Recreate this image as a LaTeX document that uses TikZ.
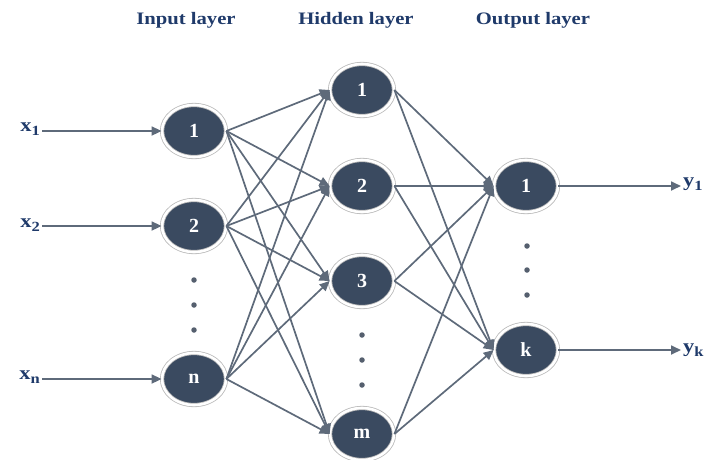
\documentclass[tikz,border=0pt]{standalone}
\usepackage{fontspec}
\setmainfont{Liberation Serif}
\newfontfamily\wideserif[FakeStretch=1.18]{Liberation Serif}
\usetikzlibrary{shapes.geometric,arrows.meta}
\definecolor{nodefill}{HTML}{3A4A60}
\definecolor{edgecol}{HTML}{5E6A7A}
\definecolor{labcol}{HTML}{1F3A6A}
\newcommand{\iolab}[2]{#1\raisebox{-4pt}{\fontsize{14}{14}\selectfont #2}}
\begin{document}
\begin{tikzpicture}[x=1pt,y=-1pt,
  neuron/.style={ellipse,minimum width=64pt,minimum height=52pt,inner sep=0pt,
    draw=gray!55,double=white,double distance=2.6pt,line width=0.8pt,fill=nodefill,
    text=white,font=\bfseries\fontsize{20}{20}\selectfont},
  conn/.style={draw=edgecol,line width=1.7pt,-{Triangle[length=10pt,width=9pt]}},
  ttl/.style={text=labcol,font=\wideserif\bfseries\fontsize{17.5}{17.5}\selectfont},
  io/.style={text=labcol,inner sep=2pt,font=\wideserif\bfseries\fontsize{19}{19}\selectfont},
  dot/.style={circle,fill=edgecol!90!black,inner sep=0pt,minimum size=5.5pt}]
\useasboundingbox (0,0) rectangle (707,459);
% titles
\node[ttl] (t1) at (186,20) {Input layer};
\node[ttl] (t2) at (356,20) {Hidden layer};
\node[ttl] (t3) at (533,20) {Output layer};
% nodes
\node[neuron] (i1) at (194,131) {1};
\node[neuron] (i2) at (194,226) {2};
\node[neuron] (in) at (194,379) {n};
\node[neuron] (h1) at (362,90) {1};
\node[neuron] (h2) at (362,186) {2};
\node[neuron] (h3) at (362,281) {3};
\node[neuron] (hm) at (362,434) {m};
\node[neuron] (o1) at (526,186) {1};
\node[neuron] (ok) at (526,350) {k};
% dots
\foreach \yy [count=\c] in {280,305,330} \node[dot] (di\c) at (194,\yy) {};
\foreach \yy [count=\c] in {335,360,385} \node[dot] (dh\c) at (362,\yy) {};
\foreach \yy [count=\c] in {246,270,295} \node[dot] (do\c) at (527,\yy) {};
% io labels
\node[io,anchor=east] (x1) at (42,129) {\iolab{x}{1}};
\node[io,anchor=east] (x2) at (42,225) {\iolab{x}{2}};
\node[io,anchor=east] (xn) at (42,377) {\iolab{x}{n}};
\node[io,anchor=west] (y1) at (681,184) {\iolab{y}{1}};
\node[io,anchor=west] (yk) at (681,350) {\iolab{y}{k}};
% connectors
\draw[conn] (x1.east |- i1) -- (i1);
\draw[conn] (x2.east |- i2) -- (i2);
\draw[conn] (xn.east |- in) -- (in);
\foreach \a in {i1,i2,in} \foreach \b in {h1,h2,h3,hm} \draw[conn] (\a.east) -- (\b.west);
\foreach \a in {h1,h2,h3,hm} \foreach \b in {o1,ok} \draw[conn] (\a.east) -- (\b.west);
\draw[conn] (o1) -- (y1.west |- o1);
\draw[conn] (ok) -- (yk.west |- ok);
\end{tikzpicture}
\end{document}
